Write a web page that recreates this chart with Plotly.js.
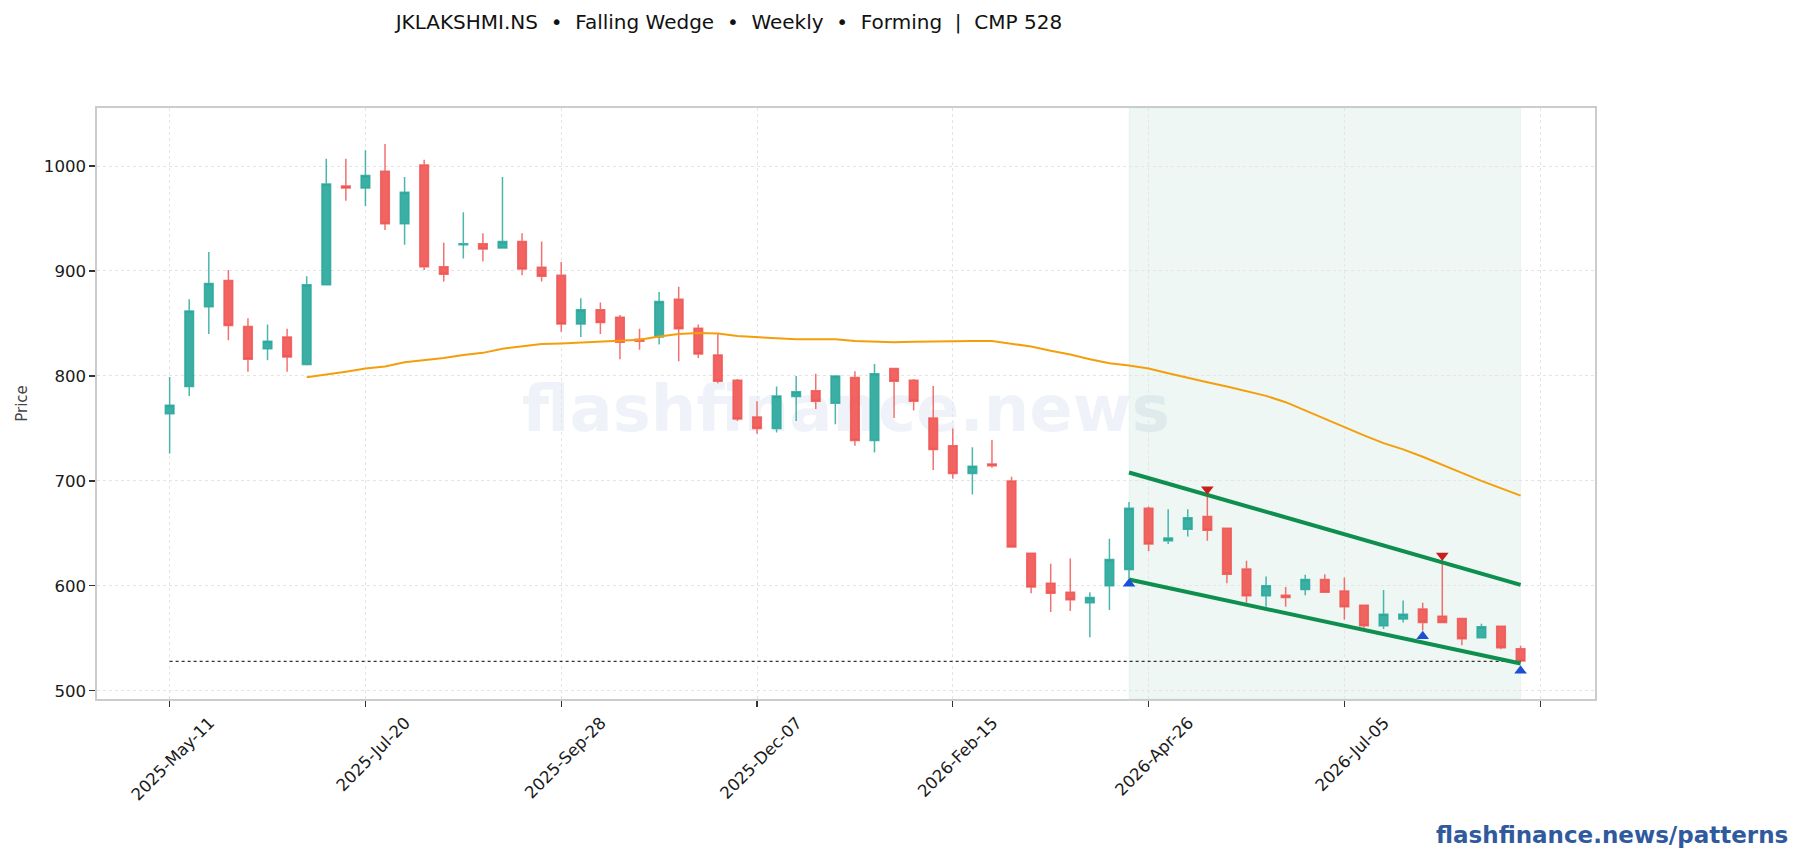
<!DOCTYPE html>
<html>
<head>
<meta charset="utf-8">
<title>JKLAKSHMI.NS Falling Wedge</title>
<script src="https://cdn.plot.ly/plotly-3.0.1.min.js"></script>
<style>
  html, body { margin: 0; padding: 0; background: #fff; }
  #chart { width: 1804px; height: 860px; }
</style>
</head>
<body>
<div id="chart"></div>
<script>
// weekly candles
const opens = [764, 790, 866, 891, 847, 826, 837, 811, 887, 981, 979, 995, 945, 1001, 904, 925, 926, 922, 928, 903.5, 896, 849.5, 863, 856, 835, 837, 873, 845.5, 820, 796, 761, 750, 780.5, 786, 774, 798.5, 738.5, 807, 796, 760, 733.5, 707, 716, 700, 631, 602.5, 594, 584, 600, 615.5, 674, 643, 654, 666, 655, 616, 590.5, 591, 596.5, 606, 595, 581.5, 562, 568.5, 578, 571, 569, 550.5, 561.5, 540];
const closes = [772, 862, 888, 848, 816, 833, 818, 887, 983, 979, 991, 945, 975, 904, 897, 926, 921, 928, 902, 895, 849.5, 863, 851, 832, 833, 871, 845, 821, 795, 759, 750, 781, 785, 776, 800, 738.5, 802, 795, 776, 730, 707, 714, 714.5, 637, 599, 593, 586.7, 589, 625, 674, 640, 645.5, 665, 653, 611, 590.5, 600, 589, 606, 594, 580, 562, 573, 573, 565, 565, 549.5, 561, 541, 528.5];
const highs = [799, 873, 918, 901, 855, 849, 845, 895, 1007, 1007, 1015, 1021, 989.5, 1006, 927, 956, 936, 989.5, 936, 928, 908.5, 874, 870, 858, 845, 880, 885, 849, 840, 797, 776, 790, 800, 802, 800, 804.5, 811.5, 807, 797, 790.5, 750, 732, 739, 704, 631, 621, 626, 594, 645, 680, 675.5, 673, 673, 690, 655, 624, 609, 599, 610.5, 611, 608, 582, 596, 586, 584, 624, 569, 564, 561.5, 543];
const lows = [726, 781, 840, 834, 804, 815, 804, 810, 887, 967, 962, 939, 925, 901, 890, 912, 909, 922, 896, 890, 842, 837, 840, 816, 825, 830, 814, 817, 793, 757, 745, 746, 757, 768.5, 754, 733.5, 727, 760, 767, 710.5, 702, 687, 712.5, 637, 593, 575, 576, 551, 577, 607, 633, 640, 647, 643, 602.5, 584, 580, 580, 591, 594, 568, 560, 559, 565, 557.5, 565, 543.5, 550.5, 539.5, 528.5];

// moving average starts at candle 7
const maIdx = [7, 8, 9, 10, 11, 12, 13, 14, 15, 16, 17, 18, 19, 20, 21, 22, 23, 24, 25, 26, 27, 28, 29, 30, 31, 32, 33, 34, 35, 36, 37, 38, 39, 40, 41, 42, 43, 44, 45, 46, 47, 48, 49, 50, 51, 52, 53, 54, 55, 56, 57, 58, 59, 60, 61, 62, 63, 64, 65, 66, 67, 68, 69];
const maVals = [798.7, 801, 804, 807, 809, 813, 815, 817, 820, 822, 826, 828.5, 830.5, 831, 832, 833, 833.4, 834.4, 837.6, 840, 841, 840.5, 838, 837, 835.7, 835, 835, 835, 833.4, 833, 832, 832.5, 833, 833.4, 833.4, 833.4, 831, 828, 824, 820.4, 816, 812, 810, 807, 802.5, 798, 794, 790, 785.3, 781, 775, 767, 759, 751, 743.4, 736, 730, 723, 715.7, 707.7, 700, 693, 686];

// wedge
const wedgeX = [49, 69];
const wedgeUpper = [708, 601];
const wedgeLower = [606, 526];
const pivotHighX = [53, 65];
const pivotHighY = [692, 629];
const pivotLowX = [49, 64, 69];
const pivotLowY = [602, 552, 519];
const cmp = 528;
const cmpX = [0, 69];

const tickPos = [0, 10, 20, 30, 40, 50, 60, 70];
const tickText = ["2025-May-11", "2025-Jul-20", "2025-Sep-28", "2025-Dec-07", "2026-Feb-15", "2026-Apr-26", "2026-Jul-05", ""];
const yTicks = [500, 600, 700, 800, 900, 1000];

const FONT = "DejaVu Sans";
const idx = opens.map((_, i) => i);

const traces = [
  {
    type: "candlestick",
    x: idx, open: opens, high: highs, low: lows, close: closes,
    whiskerwidth: 0,
    increasing: { line: { color: "rgba(38,166,154,0.82)", width: 1.5 }, fillcolor: "rgba(38,166,154,0.9)" },
    decreasing: { line: { color: "rgba(239,83,80,0.82)", width: 1.5 }, fillcolor: "rgba(239,83,80,0.9)" },
    hoverinfo: "skip",
    showlegend: false,
  },
  { type: "scatter", mode: "lines", x: maIdx, y: maVals, line: { color: "#f59e0b", width: 2 }, showlegend: false },
  { type: "scatter", mode: "lines", x: cmpX, y: [cmp, cmp], line: { color: "#333333", width: 1.2, dash: "dot" }, showlegend: false },
  { type: "scatter", mode: "lines", x: wedgeX, y: wedgeUpper, line: { color: "#0f8f4f", width: 4 }, showlegend: false },
  { type: "scatter", mode: "lines", x: wedgeX, y: wedgeLower, line: { color: "#0f8f4f", width: 4 }, showlegend: false },
  { type: "scatter", mode: "markers", x: pivotHighX, y: pivotHighY, marker: { symbol: "triangle-down", color: "#c81e1e", size: 11 }, showlegend: false },
  { type: "scatter", mode: "markers", x: pivotLowX, y: pivotLowY, marker: { symbol: "triangle-up", color: "#1d4ed8", size: 11 }, showlegend: false },
];

const layout = {
  width: 1804,
  height: 860,
  margin: { l: 97, r: 209, t: 108, b: 161 },
  paper_bgcolor: "#ffffff",
  plot_bgcolor: "#ffffff",
  font: { family: FONT, size: 16.6, color: "#1a1a1a" },
  boxgap: 0.37,
  showlegend: false,
  title: {
    text: "JKLAKSHMI.NS\u00a0\u00a0•\u00a0\u00a0Falling Wedge\u00a0\u00a0•\u00a0\u00a0Weekly\u00a0\u00a0•\u00a0\u00a0Forming\u00a0\u00a0|\u00a0\u00a0CMP 528",
    font: { family: FONT, size: 20, color: "#111111" },
    x: 761 / 1804, xref: "paper", xanchor: "center",
    y: 1 - 22 / 860, yref: "container", yanchor: "middle",
  },
  xaxis: {
    type: "linear",
    range: [-3.71, 72.8],
    tickmode: "array",
    tickvals: tickPos,
    ticktext: tickText,
    tickangle: -45,
    ticklabelshift: 40,
    ticks: "outside", ticklen: 6, tickwidth: 1.2, tickcolor: "#333333",
    showgrid: true, gridcolor: "#e4e4e4", griddash: "dot", gridwidth: 1,
    zeroline: false,
    showline: true, linecolor: "#cccccc", linewidth: 1.6, mirror: true,
    rangeslider: { visible: false },
  },
  yaxis: {
    range: [492.2, 1055.3],
    tickmode: "array",
    tickvals: yTicks,
    ticks: "outside", ticklen: 6, tickwidth: 1.2, tickcolor: "#333333",
    showgrid: true, gridcolor: "#e4e4e4", griddash: "dot", gridwidth: 1,
    zeroline: false,
    showline: true, linecolor: "#cccccc", linewidth: 1.6, mirror: true,
    title: { text: "Price", font: { family: FONT, size: 15, color: "#444444" }, standoff: 12 },
  },
  shapes: [
    // forming window
    { type: "rect", layer: "below", xref: "x", yref: "paper", x0: 49, x1: 69, y0: 0, y1: 1,
      fillcolor: "rgba(15,143,79,0.07)", line: { width: 1, color: "rgba(15,143,79,0.05)" } },
    // watermark goes on a shape label so it sits behind the candles
    { type: "rect", layer: "below", xref: "paper", yref: "paper", x0: 0, x1: 1, y0: 0, y1: 1,
      fillcolor: "rgba(0,0,0,0)", line: { width: 0 },
      label: { text: "flashfinance.news", textposition: "middle center",
        font: { family: FONT, size: 64, weight: "bold", color: "rgba(30,70,150,0.07)" } } },
  ],
  annotations: [
    { text: "<b>flashfinance.news/patterns</b>", xref: "paper", yref: "paper",
      x: (1790 - 97) / 1498, y: -(835 - 699) / 591, xanchor: "right", yanchor: "middle",
      showarrow: false, font: { family: FONT, size: 23, color: "#2f5a9e" } },
  ],
};

Plotly.newPlot("chart", traces, layout, { displayModeBar: false, staticPlot: true });
</script>
</body>
</html>
